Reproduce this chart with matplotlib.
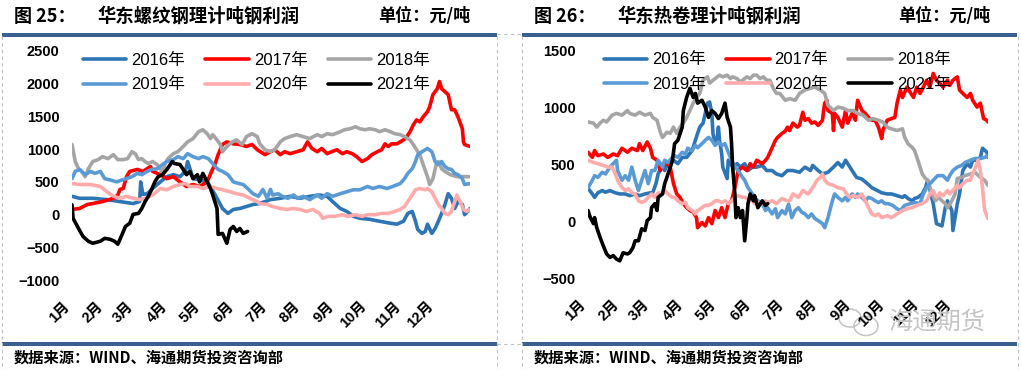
import matplotlib
matplotlib.use("Agg")
import matplotlib.pyplot as plt
from matplotlib.patches import Rectangle, Ellipse

plt.rcParams['font.family'] = ['Liberation Sans', 'Noto Sans CJK SC', 'DejaVu Sans']
plt.rcParams['axes.unicode_minus'] = True

# ---------------- data ----------------
month_days = [0, 31, 59, 90, 120, 151, 181, 212, 243, 273, 304, 334]
month_labels = ["1月", "2月", "3月", "4月", "5月", "6月", "7月", "8月", "9月", "10月", "11月", "12月"]
years = ["2016年", "2017年", "2018年", "2019年", "2020年", "2021年"]
colors = ["#2E75B6", "#FF0000", "#A5A5A5", "#5B9BD5", "#FFABAB", "#000000"]

# 华东螺纹钢 (day of year, 元/吨)
rb_2016 = [(0,280),(7,250),(19,250),(32,230),(44,200),(56,170),(62,200),(63,500),(65,310),(69,320),
           (74,400),(81,500),(87,580),(93,610),(99,580),(104,660),(106,810),(109,660),(111,550),(117,530),
           (124,500),(128,400),(133,250),(138,95),(143,20),(148,80),(154,95),(160,125),(166,155),(172,170),
           (182,230),(191,250),(200,280),(209,250),(218,280),(227,300),(234,280),(239,200),(246,95),(252,50),
           (258,-25),(264,-55),(273,-70),(282,-100),(292,-130),(298,-145),(304,-100),(308,20),(312,50),(315,-100),
           (317,-225),(321,-285),(324,-255),(326,-145),(330,-285),(333,-210),(336,-100),(339,20),(342,155),(345,320),
           (348,250),(351,95),(354,200),(358,155),(360,0),(363,50),(365,95)]
rb_2017 = [(0,80),(7,95),(14,155),(19,170),(28,200),(38,250),(42,300),(44,385),(47,400),(50,580),
           (53,660),(60,690),(65,660),(72,735),(74,660),(81,610),(87,550),(93,580),(99,500),(105,430),
           (111,460),(117,430),(124,500),(128,660),(131,765),(134,915),(138,1070),(142,1110),(148,1080),(154,1070),
           (160,1040),(165,1070),(170,990),(177,915),(182,960),(186,990),(191,915),(195,960),(200,930),(206,960),
           (212,990),(216,1110),(220,1010),(225,960),(229,1010),(234,930),(238,960),(243,990),(248,930),(252,960),
           (257,930),(261,885),(266,810),(271,855),(275,915),(280,960),(284,990),(287,1080),(290,1040),(293,1080),
           (298,1080),(301,1110),(304,1140),(307,1190),(310,1265),(313,1370),(316,1445),(319,1415),(322,1490),(326,1570),
           (328,1645),(331,1830),(335,1920),(337,2030),(339,1920),(342,1875),(345,1830),(348,1600),(351,1600),(354,1490),
           (358,1310),(359,1110),(360,1070),(365,1040)]
rb_2018 = [(0,1070),(3,810),(6,700),(9,660),(12,580),(15,700),(19,810),(24,840),(28,885),(33,855),
           (38,915),(42,840),(47,840),(51,855),(55,960),(58,930),(61,840),(64,855),(67,810),(70,780),
           (74,810),(78,765),(81,700),(83,630),(85,765),(88,855),(93,930),(97,960),(102,1040),(106,1110),
           (111,1160),(116,1265),(120,1295),(124,1235),(127,1160),(129,1220),(133,1140),(136,1070),(138,960),(142,1040),
           (147,1110),(151,1140),(156,1070),(160,1190),(165,1235),(170,1190),(172,1085),(177,990),(182,960),(186,990),
           (191,1110),(195,1160),(200,1190),(206,1220),(212,1190),(218,1160),(225,1220),(229,1190),(234,1235),(239,1220),
           (246,1265),(250,1295),(255,1310),(260,1340),(264,1310),(269,1295),(273,1310),(278,1295),(282,1265),(287,1295),
           (292,1265),(296,1235),(301,1220),(305,1190),(310,1140),(313,1070),(316,990),(319,915),(322,765),(326,580),
           (328,460),(331,550),(334,765),(336,810),(339,700),(342,660),(347,610),(353,580),(359,580),(365,580)]
rb_2019 = [(0,550),(3,660),(7,690),(12,610),(17,660),(21,630),(26,660),(30,550),(35,530),(41,500),
           (46,530),(50,550),(55,580),(60,630),(64,610),(69,660),(73,690),(78,700),(83,765),(87,810),
           (93,840),(97,885),(102,855),(106,930),(111,885),(116,855),(120,885),(125,855),(129,780),(134,690),
           (138,660),(143,610),(148,500),(152,480),(157,460),(161,400),(166,320),(171,280),(175,385),(179,250),
           (182,385),(184,300),(189,320),(193,280),(198,250),(203,300),(207,250),(212,280),(218,230),(225,300),
           (229,250),(234,320),(239,280),(246,320),(252,350),(258,380),(264,380),(271,430),(276,400),(282,430),
           (289,400),(294,430),(301,475),(305,550),(308,630),(312,700),(315,810),(317,915),(321,960),(324,990),
           (326,1010),(330,960),(333,810),(336,765),(339,810),(342,735),(345,700),(348,690),(351,630),(354,610),
           (358,550),(360,460),(365,475)]
rb_2020 = [(0,475),(7,460),(17,460),(26,430),(32,350),(38,280),(44,250),(50,280),(56,250),(62,230),
           (69,260),(74,300),(81,400),(87,380),(93,430),(99,460),(104,475),(108,430),(115,430),(120,400),
           (127,430),(133,400),(138,380),(145,350),(151,320),(157,300),(163,250),(170,200),(172,170),(179,155),
           (184,125),(191,95),(197,80),(203,95),(209,80),(215,50),(221,80),(227,20),(230,-55),(235,-25),
           (241,-25),(248,0),(253,-25),(260,0),(266,-25),(271,0),(278,0),(284,20),(290,20),(296,50),
           (301,80),(305,125),(308,200),(312,300),(315,380),(319,400),(324,380),(326,400),(330,350),(333,250),
           (336,155),(339,95),(342,20),(345,0),(348,50),(351,200),(353,300),(356,200),(359,80),(362,50),(365,80)]
rb_2021 = [(0,150),(1,-55),(6,-210),(10,-330),(15,-405),(19,-435),(26,-405),(30,-360),(35,-375),(39,-405),
           (42,-450),(46,-300),(49,-180),(53,-130),(56,5),(61,20),(64,95),(67,200),(70,280),(73,385),
           (76,500),(79,580),(83,610),(87,690),(92,810),(94,780),(99,765),(102,690),(105,610),(108,660),
           (111,550),(115,610),(117,500),(120,630),(124,500),(127,400),(129,305),(133,95),(134,-300),(138,-285),
           (140,-360),(142,-435),(145,-225),(148,-180),(151,-255),(154,-210),(157,-285),(161,-255)]

# 华东热卷 (day of year, 元/吨)
hc_2016 = [(0,290),(4,240),(6,210),(9,250),(13,270),(16,255),(20,270),(25,250),(29,240),(34,240),
           (38,225),(43,240),(47,225),(52,240),(57,250),(59,250),(62,330),(64,415),(68,505),(70,445),
           (73,515),(78,535),(82,505),(86,560),(90,560),(95,620),(98,710),(100,770),(102,825),(105,860),
           (107,945),(109,1035),(111,1045),(113,945),(114,770),(116,680),(118,735),(119,825),(120,710),(122,590),
           (123,475),(127,375),(128,535),(130,505),(132,475),(136,505),(139,475),(143,505),(146,445),(150,475),
           (154,475),(159,490),(163,445),(168,445),(172,415),(177,400),(182,445),(187,445),(193,430),(198,475),
           (203,445),(205,490),(210,445),(214,415),(219,430),(224,475),(228,515),(232,475),(235,535),(237,505),
           (241,445),(245,385),(250,370),(255,330),(259,295),(264,270),(268,250),(273,240),(277,240),(282,225),
           (287,210),(289,225),(292,200),(296,180),(298,200),(301,210),(305,240),(308,295),(310,360),(315,155),
           (318,-20),(323,-40),(326,120),(328,180),(332,95),(333,-80),(337,155),(339,240),(342,445),(346,505),
           (349,475),(351,535),(355,535),(358,560),(360,640),(364,605),(365,560)]
hc_2017 = [(0,605),(4,560),(6,620),(9,575),(14,590),(18,560),(23,590),(27,575),(31,640),(36,605),
           (40,640),(45,620),(47,680),(50,620),(54,695),(57,640),(59,560),(63,535),(64,505),(66,445),
           (68,490),(72,505),(75,475),(78,330),(81,240),(84,210),(87,155),(90,120),(93,95),(96,80),
           (99,33),(100,-55),(104,-10),(107,-40),(110,33),(113,-20),(116,95),(119,33),(122,120),(125,33),
           (128,155),(131,180),(134,295),(137,445),(141,475),(145,445),(148,505),(151,475),(154,535),(159,505),
           (162,535),(164,560),(168,645),(171,710),(173,735),(177,770),(180,790),(182,825),(184,795),(187,860),
           (191,825),(193,840),(196,955),(198,885),(201,900),(204,860),(207,870),(210,840),(214,885),(215,970),
           (216,1035),(218,1060),(219,970),(223,945),(224,795),(225,945),(228,910),(232,825),(235,970),(237,860),
           (241,945),(244,885),(246,1060),(250,970),(253,945),(256,910),(259,885),(262,885),(265,825),(268,725),
           (269,795),(273,885),(277,900),(280,910),(282,1035),(285,1150),(287,1085),(291,1175),(294,1130),(297,1085),
           (300,1175),(303,1120),(306,1175),(309,1235),(312,1175),(315,1295),(318,1235),(321,1210),(324,1175),(328,1235),
           (330,1190),(333,1235),(337,1265),(339,1150),(342,1120),(346,1085),(349,1120),(351,1060),(355,1000),(358,1035),
           (360,945),(361,900),(364,885),(365,870)]
hc_2018 = [(0,870),(5,860),(8,825),(11,860),(14,885),(17,870),(22,930),(26,945),(31,930),(36,970),
           (38,945),(43,930),(47,955),(52,930),(57,945),(59,910),(63,885),(66,780),(68,735),(72,780),
           (75,770),(78,825),(81,770),(84,825),(87,860),(90,910),(93,970),(96,1035),(99,1085),(102,1120),
           (105,1235),(109,1265),(111,1210),(114,1235),(118,1265),(120,1280),(123,1265),(127,1280),(130,1250),(132,1265),
           (136,1250),(139,1220),(141,1235),(145,1265),(148,1250),(151,1280),(154,1280),(157,1250),(160,1265),(163,1235),
           (166,1235),(169,1165),(172,1120),(175,1120),(180,1060),(184,1075),(189,1060),(193,1120),(198,1150),(203,1165),
           (207,1175),(212,1150),(216,1120),(219,1015),(224,970),(228,1000),(233,990),(237,970),(242,970),(246,945),
           (251,930),(256,885),(260,900),(265,885),(269,870),(273,825),(277,810),(282,795),(287,810),(289,735),
           (292,680),(296,645),(298,620),(301,535),(305,415),(308,375),(310,360),(314,240),(317,180),(320,210),
           (323,180),(326,155),(328,120),(332,180),(335,240),(337,375),(341,385),(344,400),(349,415),(353,430),
           (358,385),(362,360),(365,315)]
hc_2019 = [(0,295),(4,360),(6,400),(9,385),(13,430),(16,415),(20,475),(23,505),(26,535),(27,445),
           (31,360),(34,400),(37,360),(40,475),(43,360),(46,270),(49,360),(52,445),(55,330),(58,445),
           (61,445),(64,535),(68,475),(70,535),(73,515),(77,560),(79,575),(82,560),(86,605),(89,590),
           (91,640),(95,620),(98,665),(100,645),(104,680),(107,710),(110,735),(113,710),(116,665),(119,695),
           (122,665),(125,680),(128,605),(131,535),(134,475),(137,445),(141,385),(143,360),(146,295),(150,240),
           (152,210),(155,180),(159,155),(162,95),(164,120),(168,65),(171,110),(173,33),(177,95),(180,65),
           (183,150),(186,33),(189,95),(192,120),(195,80),(198,65),(201,33),(204,65),(207,25),(210,7),
           (214,-20),(216,-55),(219,33),(223,180),(225,240),(228,210),(232,180),(235,210),(237,180),(241,240),
           (244,210),(246,240),(250,210),(253,180),(256,210),(259,200),(262,180),(265,165),(268,180),(271,155),
           (274,155),(278,140),(282,110),(285,95),(289,140),(294,155),(298,165),(303,155),(306,240),(309,295),
           (312,330),(315,360),(319,400),(324,400),(328,360),(330,400),(333,445),(337,475),(341,490),(344,515),
           (349,535),(353,550),(358,550),(362,560),(365,575)]
hc_2020 = [(0,535),(5,515),(9,505),(14,490),(18,475),(22,475),(25,415),(27,360),(31,295),(34,270),
           (37,285),(40,250),(43,240),(46,180),(49,165),(52,180),(55,210),(58,240),(61,210),(64,250),
           (68,240),(70,270),(73,240),(77,210),(79,210),(82,180),(86,155),(89,165),(91,120),(95,95),
           (98,65),(100,95),(104,120),(107,140),(110,140),(113,155),(116,180),(119,180),(122,165),(125,180),
           (128,155),(131,180),(134,210),(137,225),(141,210),(143,210),(146,200),(150,180),(152,155),(155,165),
           (159,155),(162,180),(164,165),(168,180),(172,155),(177,200),(182,180),(184,180),(187,240),(192,210),
           (196,270),(201,240),(205,295),(209,360),(212,385),(214,415),(216,360),(219,330),(224,315),(228,295),
           (233,285),(236,240),(239,210),(242,225),(246,210),(250,240),(253,180),(256,120),(259,65),(262,50),
           (265,65),(268,33),(273,50),(277,33),(282,65),(287,95),(291,110),(296,120),(300,140),(305,155),
           (309,180),(312,240),(315,270),(318,210),(321,250),(324,225),(328,270),(330,240),(333,270),(337,315),
           (339,295),(342,330),(346,360),(349,360),(351,415),(355,505),(356,535),(358,445),(360,295),(361,180),
           (362,95),(365,25)]
hc_2021 = [(0,95),(2,36),(5,-20),(6,33),(8,-55),(11,-140),(14,-215),(17,-285),(20,-315),(23,-300),
           (26,-330),(29,-345),(32,-275),(36,-285),(38,-275),(41,-230),(43,-170),(46,-170),(49,-65),(52,-80),
           (54,7),(57,33),(58,120),(61,155),(63,95),(64,210),(68,240),(70,330),(73,415),(77,530),
           (79,680),(82,710),(86,825),(87,970),(90,1085),(93,1165),(96,1085),(98,1120),(100,1035),(104,1060),
           (107,1000),(110,910),(113,970),(116,945),(119,900),(122,945),(125,1035),(127,910),(130,825),(131,680),
           (132,475),(134,240),(135,33),(137,120),(139,33),(141,95),(143,-170),(145,33),(146,155),(148,240),
           (151,180),(152,225),(155,120),(159,180),(162,140),(164,155)]

rb_series = [rb_2016, rb_2017, rb_2018, rb_2019, rb_2020, rb_2021]
hc_series = [hc_2016, hc_2017, hc_2018, hc_2019, hc_2020, hc_2021]

# ---------------- figure ----------------
W, H = 1021, 370
fig = plt.figure(figsize=(W / 100, H / 100), dpi=100)

ov = fig.add_axes([0, 0, 1, 1], zorder=0)
ov.set_xlim(0, W)
ov.set_ylim(H, 0)
ov.axis('off')

BAR = '#3A6090'
DASH = '#BFBFBF'
for x0, x1 in [(2, 497), (522, 1017)]:
    ov.add_patch(Rectangle((x0, 33), x1 - x0, 3.5, color=BAR, lw=0))
    ov.add_patch(Rectangle((x0, 342), x1 - x0, 3.5, color=BAR, lw=0))
for xv in [2, 497, 522, 1018]:
    ov.plot([xv, xv], [36, H], color=DASH, lw=0.8, ls=(0, (3, 3)))
for yv in [34, 343.5]:
    ov.plot([497, 522], [yv, yv], color=DASH, lw=0.8, ls=(0, (3, 3)))

def px(x, y):
    return x / W, 1 - y / H

cjk = ['Noto Sans CJK SC', 'DejaVu Sans']
for off, num, name in [(0, "25", "华东螺纹钢理计吨钢利润"), (520, "26", "华东热卷理计吨钢利润")]:
    fig.text(*px(14 + off, 16), f"图 {num}：", family=cjk, fontweight='bold', fontsize=13, va='center', ha='left')
    fig.text(*px(97 + off, 16), name, family=cjk, fontweight='bold', fontsize=13.2, va='center', ha='left')
    fig.text(*px(378 + off, 16), "单位：元/吨", family=cjk, fontweight='bold', fontsize=12.3, va='center', ha='left')
    fig.text(*px(14 + off, 358), "数据来源：WIND、海通期货投资咨询部", family=cjk, fontweight='bold',
             fontsize=11, va='center', ha='left')

# watermark
ov.add_patch(Ellipse((850, 318), 22, 18, fill=False, ec='#C4C4C4', lw=1.1))
ov.add_patch(Ellipse((866, 326), 24, 19, fill=False, ec='#C4C4C4', lw=1.1))
fig.text(*px(888, 322), "海通期货", family=cjk, fontsize=17.5, color='#C4C4C4', va='center', ha='left')

def draw(box, series, ylim, yticks, leg_anchor):
    x0, y0, x1, y1 = box
    ax = fig.add_axes([x0 / W, 1 - y1 / H, (x1 - x0) / W, (y1 - y0) / H], zorder=2)
    ax.patch.set_alpha(0)
    lines = []
    for pts, c in zip(series, colors):
        d = [p[0] for p in pts]
        v = [p[1] for p in pts]
        ln, = ax.plot(d, v, color=c, lw=2.6, solid_joinstyle='round', solid_capstyle='round')
        lines.append(ln)
    ax.set_xlim(0, 365)
    ax.set_ylim(*ylim)
    ax.set_yticks(yticks)
    ax.set_yticklabels([f"{t}".replace('-', '\u2212') for t in yticks], fontweight='bold', fontsize=10.5)
    ax.set_xticks(month_days)
    ax.set_xticklabels(month_labels, rotation=45, ha='right', va='top', rotation_mode='default',
                       fontweight='bold', fontsize=10.5)
    ax.tick_params(axis='both', length=0)
    ax.tick_params(axis='y', pad=9)
    ax.tick_params(axis='x', pad=13.5)
    for s in ax.spines.values():
        s.set_visible(False)
    order = [0, 3, 1, 4, 2, 5]
    ax.legend([lines[i] for i in order], [years[i] for i in order], ncol=3, loc='upper left',
              bbox_to_anchor=leg_anchor, frameon=False, fontsize=12, handlelength=2.6,
              handletextpad=0.3, columnspacing=1.2, labelspacing=0.55, borderpad=0, borderaxespad=0)
    return ax

draw((72, 50.7, 470, 280.3), rb_series, (-1000, 2500), [-1000, -500, 0, 500, 1000, 1500, 2000, 2500], (0.028, 0.99))
draw((588, 50.0, 988, 278.5), hc_series, (-500, 1500), [-500, 0, 500, 1000, 1500], (0.04, 0.99))

fig.savefig("out.png", dpi=100)
